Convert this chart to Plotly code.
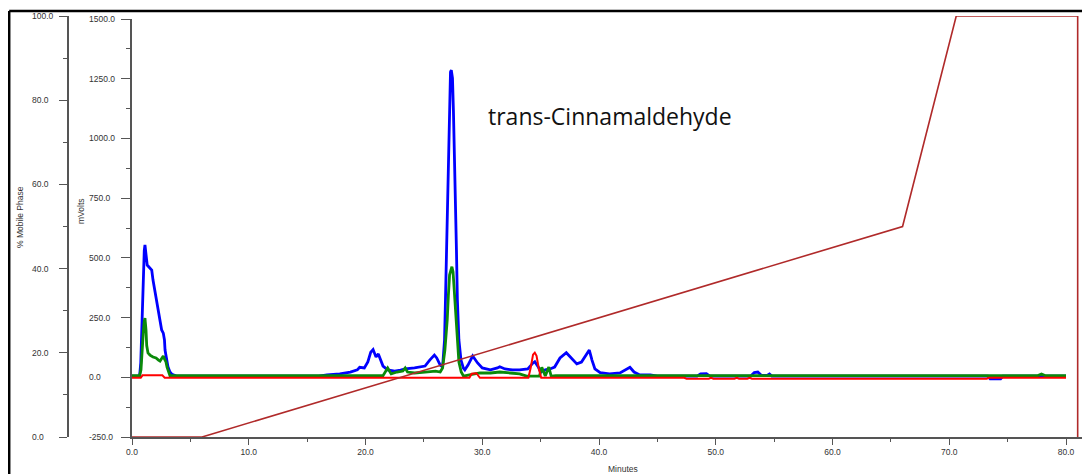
import plotly.graph_objects as go

# ---------------- data ----------------
x_ticks = [0, 10, 20, 30, 40, 50, 60, 70, 80]
x_tick_labels = ["0.0", "10.0", "20.0", "30.0", "40.0", "50.0", "60.0", "70.0", "80.0"]
mv_ticks = [-250, 0, 250, 500, 750, 1000, 1250, 1500]
mv_tick_labels = ["-250.0", "0.0", "250.0", "500.0", "750.0", "1000.0", "1250.0", "1500.0"]
pct_ticks = [0, 20, 40, 60, 80, 100]
pct_tick_labels = ["0.0", "20.0", "40.0", "60.0", "80.0", "100.0"]

blue_t = [0, 0.65, 0.75, 0.85, 0.95, 1.05, 1.11, 1.2, 1.3, 1.45, 1.6, 1.69, 1.8, 1.97, 2.1, 2.25,
          2.4, 2.54, 2.68, 2.78, 2.83, 2.96, 3.08, 3.25, 3.43, 3.8,
          16.0, 16.7, 17.8, 18.7, 19.3, 19.5, 19.9, 20.2, 20.45, 20.65, 20.9, 21.1, 21.25, 21.5,
          21.9, 22.5, 23.0, 23.4, 24.2, 25.1, 25.5, 25.9, 26.1, 26.4, 26.6,
          26.77, 26.85, 26.94, 27.02, 27.11, 27.19, 27.28, 27.35, 27.45, 27.53, 27.62, 27.70,
          27.79, 27.87, 28.0, 28.18, 28.38,
          28.51, 28.78, 29.18, 29.6, 30.0, 30.7, 31.3, 31.5, 31.95, 32.6, 33.2, 33.9, 34.35,
          34.5, 34.8, 35.0, 35.4, 35.8, 36.2, 36.66, 37.2, 37.6, 38.1, 38.5, 38.9, 39.17, 39.4,
          39.65, 40.1, 40.9, 41.8, 42.3, 42.65, 43.0, 43.5, 44.4, 45.0,
          48.4, 48.7, 49.2, 49.5, 53.0, 53.3, 53.6, 53.9, 54.4, 54.6, 54.8, 73.3, 73.5, 74.4,
          74.6, 80.0]
blue_mv = [5, 5, 60, 220, 420, 530, 554, 500, 470, 462, 455, 449, 407, 358, 320, 290,
           248, 198, 185, 156, 114, 81, 44, 22, 12, 5,
           5, 10, 14, 22, 31, 42, 39, 64, 105, 116, 85, 98, 81, 47,
           31, 26, 30, 35, 39, 47, 72, 93, 81, 51, 43,
           156, 324, 533, 742, 993, 1203, 1278, 1286, 1253, 1119, 952, 742,
           533, 324, 156, 72, 39,
           31, 51, 89, 60, 39, 31, 39, 44, 35, 31, 31, 35, 60,
           65, 43, 22, 31, 35, 43, 81, 103, 81, 56, 64, 93, 114, 72,
           35, 19, 14, 18, 31, 42, 22, 10, 10, 5,
           5, 14, 15, 5, 5, 20, 22, 8, 8, 14, 5, 5, -7, -7,
           5, 5]

green_t = [0, 0.65, 0.77, 0.9, 0.98, 1.05, 1.11, 1.2, 1.26, 1.37, 1.54, 1.8, 2.06, 2.27, 2.4,
           2.57, 2.68, 2.78, 2.91, 3.0, 3.13, 3.25,
           21.5, 21.7, 21.9, 22.2, 22.7, 23.2, 23.4, 23.6, 24.2, 25.1, 26.0, 26.4, 26.6, 26.8,
           27.0, 27.1, 27.2, 27.4, 27.5, 27.6, 27.75, 27.9, 28.0, 28.2, 28.4, 28.9, 29.8, 30.7,
           31.5, 32.4, 33.2, 33.8, 34.9, 35.1, 35.4, 35.7, 35.9, 36.3, 77.6, 77.9, 78.2, 80.0]
green_mv = [7, 7, 31, 156, 198, 235, 248, 198, 133, 102, 93, 85, 81, 72, 68,
            81, 89, 77, 64, 43, 18, 7,
            7, 22, 39, 14, 22, 26, 39, 22, 18, 22, 26, 22, 39, 114,
            240, 344, 428, 463, 441, 366, 240, 135, 64, 22, 5, 10, 18, 18,
            22, 18, 14, 5, 5, 42, 5, 43, 5, 7, 7, 14, 7, 7]

red_t = [0, 0.75, 0.9, 2.6, 2.8, 28.9, 29.1, 29.5, 29.8, 33.95, 34.15, 34.35, 34.5, 34.65,
         34.85, 35.05, 47.3, 47.5, 49.4, 49.6, 49.8, 51.6, 51.8, 52.0, 52.7, 52.9, 53.1, 73.2,
         73.4, 80.0]
red_mv = [-2, -2, 8, 8, -2, -2, 15, 17, -2, -2, 40, 95, 103, 90,
          35, -2, -2, -6, -6, -2, -6, -6, -2, -6, -6, -2, -6, -6,
          -2, -2]

grad_t = [0, 6, 66, 70.6, 81, 81]
grad_pct = [0, 0, 50, 100, 100, 0]

# ---------------- layout geometry ----------------
# the page body adds an 8 px margin, so the figure is drawn 8 px in from the window corner
OX, OY = 8, 8
W, H = 1090 - OX, 474 - OY
px_per_min = 11.675


def px(x):
    """screen x (px) -> paper x"""
    return (x - OX) / W


def py(y):
    """screen y (px) -> paper y"""
    return (OY + H - y) / H


AX = "#555555"
TXT = "#333333"
small = dict(family="Liberation Sans, Arial, sans-serif", size=8.5, color=TXT)

fig = go.Figure()
fig.add_trace(go.Scatter(x=blue_t, y=blue_mv, mode="lines",
                         line=dict(color="#0000ff", width=2.8), xaxis="x", yaxis="y"))
fig.add_trace(go.Scatter(x=green_t, y=green_mv, mode="lines",
                         line=dict(color="#0a8a0a", width=2.8), xaxis="x", yaxis="y"))
fig.add_trace(go.Scatter(x=red_t, y=red_mv, mode="lines",
                         line=dict(color="#ff0000", width=2), xaxis="x", yaxis="y"))
fig.add_trace(go.Scatter(x=grad_t, y=grad_pct, mode="lines",
                         line=dict(color="#b02a2a", width=1.6), xaxis="x", yaxis="y2"))

fig.update_layout(
    width=W, height=H,
    margin=dict(l=0, r=0, t=0, b=0, autoexpand=False),
    paper_bgcolor="white", plot_bgcolor="rgba(0,0,0,0)",
    showlegend=False,
    xaxis=dict(domain=[px(132), 1], range=[0, (1090 - 132) / px_per_min], anchor="y",
               tickmode="array", tickvals=x_ticks, ticktext=x_tick_labels,
               ticks="outside", ticklen=6, tickwidth=1, tickcolor=AX,
               minor=dict(dtick=5, tick0=0, ticks="outside", ticklen=3, tickcolor=AX),
               showline=True, linecolor=AX, linewidth=1.5,
               showgrid=False, zeroline=False, tickfont=small),
    yaxis=dict(domain=[py(437), py(19)], range=[-250, 1500], anchor="x",
               tickmode="array", tickvals=mv_ticks, showticklabels=False,
               ticks="outside", ticklen=9, tickwidth=1, tickcolor=AX,
               minor=dict(dtick=125, tick0=-250, ticks="outside", ticklen=4, tickcolor=AX),
               showline=True, linecolor=AX, linewidth=1.5,
               showgrid=False, zeroline=False),
    yaxis2=dict(domain=[py(437), py(16)], range=[0, 100], anchor="free", position=px(68),
                tickmode="array", tickvals=pct_ticks, showticklabels=False,
                ticks="outside", ticklen=8, tickwidth=1, tickcolor=AX,
                minor=dict(dtick=10, tick0=0, ticks="outside", ticklen=4, tickcolor=AX),
                showline=True, linecolor=AX, linewidth=1.5,
                showgrid=False, zeroline=False),
)

ann = []
for v, lab in zip(mv_ticks, mv_tick_labels):
    ann.append(dict(x=px(87), xref="paper", xanchor="left", y=v, yref="y", yanchor="middle",
                    text=lab, showarrow=False, font=small))
for v, lab in zip(pct_ticks, pct_tick_labels):
    ann.append(dict(x=px(30), xref="paper", xanchor="left", y=v, yref="y2", yanchor="middle",
                    text=lab, showarrow=False, font=small))
ann.append(dict(x=px(20), y=py(217), xref="paper", yref="paper", text="% Mobile Phase",
                xanchor="center", yanchor="middle",
                textangle=-90, showarrow=False, font=small))
ann.append(dict(x=px(81), y=py(211), xref="paper", yref="paper", text="mVolts",
                xanchor="center", yanchor="middle",
                textangle=-90, showarrow=False, font=small))
ann.append(dict(x=px(623), y=py(469), xref="paper", yref="paper", text="Minutes",
                xanchor="center", yanchor="middle", showarrow=False, font=small))
ann.append(dict(x=px(486), y=py(116), xref="paper", yref="paper", xanchor="left",
                yanchor="middle", text="trans-Cinnamaldehyde", showarrow=False,
                font=dict(family="Open Sans, sans-serif", size=23, color="#111111")))
fig.update_layout(annotations=ann)

fig.add_shape(type="line", xref="paper", yref="paper", x0=px(9.2), x1=px(9.2),
              y0=-0.02, y1=py(11), line=dict(color="black", width=2.5))
fig.add_shape(type="line", xref="paper", yref="paper", x0=px(9.2), x1=1.02,
              y0=py(11), y1=py(11), line=dict(color="black", width=2.5))

fig.write_html("out.html")
